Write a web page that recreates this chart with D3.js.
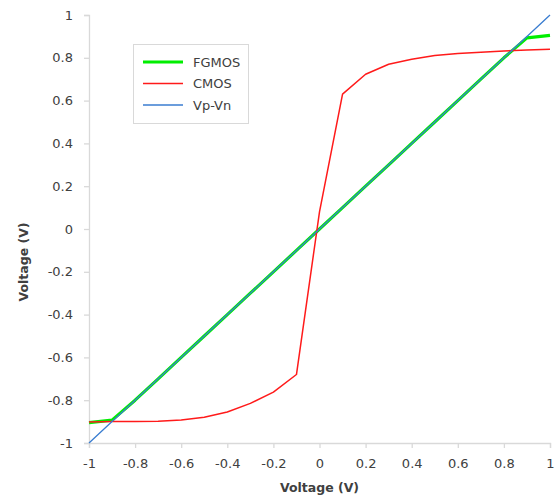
<!DOCTYPE html>
<html>
<head>
<meta charset="utf-8">
<script src="https://cdn.jsdelivr.net/npm/d3@7"></script>
<style>
  body { margin: 0; background: #fff; }
  text { font-family: "DejaVu Sans", "Liberation Sans", sans-serif; }
</style>
</head>
<body>
<div class="chart-container"></div>
<script>
// --------------------------------------------------------
// DATA
// --------------------------------------------------------
const xValues = [-1, -0.9, -0.8, -0.7, -0.6, -0.5, -0.4, -0.3, -0.2, -0.1, 0,
  0.1, 0.2, 0.3, 0.4, 0.5, 0.6, 0.7, 0.8, 0.9, 1];
const fgmosValues = [-0.905, -0.893, -0.8, -0.7, -0.6, -0.5, -0.4, -0.3, -0.2, -0.1, 0,
  0.1, 0.2, 0.3, 0.4, 0.5, 0.6, 0.7, 0.8, 0.893, 0.905];
const cmosValues = [-0.902, -0.9, -0.9, -0.898, -0.893, -0.88, -0.855, -0.815, -0.762, -0.68, 0.08,
  0.63, 0.723, 0.77, 0.793, 0.811, 0.82, 0.826, 0.832, 0.836, 0.84];
const diffValues = xValues.slice(); // Vp-Vn is the identity line
const seriesNames = ["FGMOS", "CMOS", "Vp-Vn"];
const tickValues = [-1, -0.8, -0.6, -0.4, -0.2, 0, 0.2, 0.4, 0.6, 0.8, 1];

// --------------------------------------------------------
// LAYOUT
// --------------------------------------------------------
const width = 560;
const height = 498;
const plot = { left: 89, right: 550, top: 15, bottom: 443 };

const svg = d3.select(".chart-container")
  .append("svg")
  .attr("width", width)
  .attr("height", height);

const x = d3.scaleLinear().domain([-1, 1]).range([plot.left, plot.right]);
const y = d3.scaleLinear().domain([-1, 1]).range([plot.bottom, plot.top]);

const axisColor = "#d9d9d9";
const labelColor = "#404040";
const fmt = (d) => String(d); // plain hyphen minus, like the original

// axes
const xAxis = svg.append("g")
  .attr("transform", `translate(0,${plot.bottom})`)
  .call(d3.axisBottom(x).tickValues(tickValues).tickSize(5).tickPadding(11)
    .tickFormat(fmt));
const yAxis = svg.append("g")
  .attr("transform", `translate(${plot.left},0)`)
  .call(d3.axisLeft(y).tickValues(tickValues).tickSize(5).tickPadding(11)
    .tickFormat(fmt));

[xAxis, yAxis].forEach((ax) => {
  ax.select(".domain").attr("stroke", axisColor).attr("stroke-width", 1.3);
  ax.selectAll(".tick line").attr("stroke", axisColor).attr("stroke-width", 1.3);
  ax.selectAll(".tick text")
    .attr("fill", labelColor)
    .style("font-size", "13px")
    .style("font-family", "'DejaVu Sans', 'Liberation Sans', sans-serif");
});

// axis titles
svg.append("text")
  .attr("x", (plot.left + plot.right) / 2)
  .attr("y", 492)
  .attr("text-anchor", "middle")
  .attr("fill", labelColor)
  .style("font-size", "12.5px")
  .style("font-weight", "bold")
  .text("Voltage (V)");

svg.append("text")
  .attr("transform", "translate(28,262) rotate(-90)")
  .attr("text-anchor", "middle")
  .attr("fill", labelColor)
  .style("font-size", "12.5px")
  .style("font-weight", "bold")
  .text("Voltage (V)");

// --------------------------------------------------------
// LINES
// --------------------------------------------------------
const line = d3.line()
  .x((d) => x(d[0]))
  .y((d) => y(d[1]));

const series = [
  { name: seriesNames[0], values: fgmosValues, color: "#00ee00", width: 3.2 },
  { name: seriesNames[1], values: cmosValues, color: "#ff1a1a", width: 1.5 },
  { name: seriesNames[2], values: diffValues, color: "#3a7dd0", width: 1.3 },
];

svg.append("g")
  .selectAll("path")
  .data(series)
  .join("path")
  .attr("fill", "none")
  .attr("stroke", (d) => d.color)
  .attr("stroke-width", (d) => d.width)
  .attr("stroke-linejoin", "round")
  .attr("d", (d) => line(xValues.map((xv, i) => [xv, d.values[i]])));

// --------------------------------------------------------
// LEGEND
// --------------------------------------------------------
const legend = svg.append("g").attr("transform", "translate(133,44)");

legend.append("rect")
  .attr("x", 0.5)
  .attr("y", 0.5)
  .attr("width", 115)
  .attr("height", 79)
  .attr("fill", "#fff")
  .attr("stroke", axisColor);

const items = legend.selectAll("g.item")
  .data(series)
  .join("g")
  .attr("class", "item")
  .attr("transform", (d, i) => `translate(10,${18 + i * 21.5})`);

items.append("line")
  .attr("x1", 0)
  .attr("x2", 40)
  .attr("stroke", (d) => d.color)
  .attr("stroke-width", (d) => d.width);

items.append("text")
  .attr("x", 50)
  .attr("dy", "0.35em")
  .attr("fill", labelColor)
  .style("font-size", "13px")
  .text((d) => d.name);
</script>
</body>
</html>
